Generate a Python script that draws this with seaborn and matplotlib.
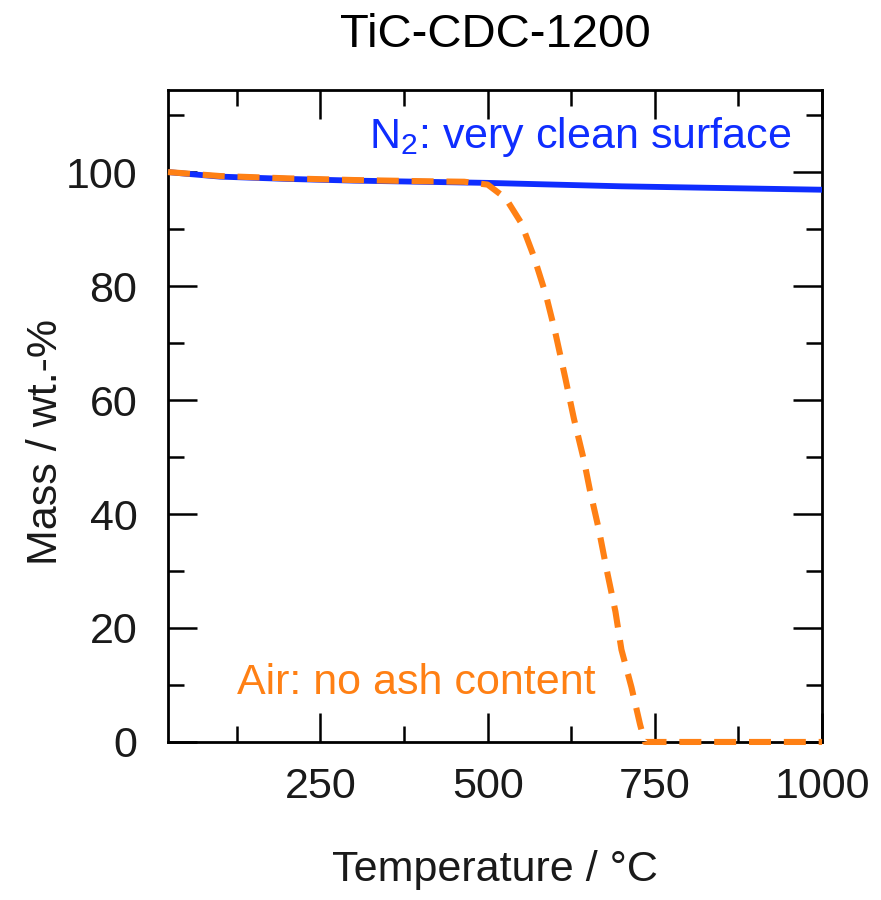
#!/usr/bin/env python3
"""
TGA curves of TiC-CDC-1200 in N2 and in air.
"""

import pandas as pd
import seaborn as sns
import matplotlib
matplotlib.use("Agg")
import matplotlib.pyplot as plt
from matplotlib.ticker import MultipleLocator

# N2 run
temp_n2 = [22, 50, 100, 200, 300, 400, 500, 600, 700, 800, 900, 1000]
mass_n2 = [100, 99.7, 99.2, 98.8, 98.5, 98.3, 98.1, 97.8, 97.5, 97.3, 97.1, 96.9]

# air run
temp_air = [22, 100, 200, 300, 400, 465, 500, 527, 550, 569, 587, 601, 616,
            629, 644, 653, 666, 678, 691, 700, 715, 728, 735, 750, 850, 1000]
mass_air = [100, 99.3, 98.9, 98.6, 98.4, 98.3, 97.8, 95.4, 91.1, 85.2, 78.5,
            71.9, 63.9, 56.7, 49.4, 44.1, 37.4, 30.2, 22.9, 16.2, 9.6, 3.0,
            0, 0, 0, 0]

x_ticks = [250, 500, 750, 1000]
y_ticks = [0, 20, 40, 60, 80, 100]

BLUE = '#0f2dff'
ORANGE = '#ff8014'

df_n2 = pd.DataFrame({'temp': temp_n2, 'mass': mass_n2})
df_air = pd.DataFrame({'temp': temp_air, 'mass': mass_air})

sns.set_theme(style="ticks")
plt.rcParams['font.family'] = ['Liberation Sans', 'DejaVu Sans']
plt.rcParams['mathtext.fontset'] = 'custom'
plt.rcParams['mathtext.rm'] = 'Liberation Sans'

fig = plt.figure(figsize=(8.81, 9.0), dpi=100)
ax = fig.add_axes([0.1907, 0.1756, 0.7424, 0.7244])

sns.lineplot(data=df_n2, x='temp', y='mass', ax=ax, color=BLUE,
             linewidth=4.2, solid_capstyle='butt', zorder=3)
air_line = sns.lineplot(data=df_air, x='temp', y='mass', ax=ax, color=ORANGE,
                        linewidth=4.4, zorder=5).lines[-1]
air_line.set_dashes((3.6, 2.1))
air_line.set_dash_capstyle('butt')
air_line.set_clip_on(False)

ax.set_xlim(22, 1000)
ax.set_ylim(0, 114.4)
ax.set_xticks(x_ticks)
ax.set_yticks(y_ticks)
ax.xaxis.set_minor_locator(MultipleLocator(125))
ax.yaxis.set_minor_locator(MultipleLocator(10))

ax.tick_params(which='both', direction='in', top=True, right=True,
               width=1.8, color='black', labelsize=31, labelcolor='#1a1a1a')
ax.tick_params(which='major', length=21)
ax.tick_params(which='minor', length=11.5)
ax.tick_params(axis='x', which='major', pad=18)
ax.tick_params(axis='y', which='major', pad=22)

for sp in ax.spines.values():
    sp.set_visible(True)
    sp.set_linewidth(2.0)
    sp.set_color('black')

ax.set_title('TiC-CDC-1200', fontsize=34, pad=31, color='black')
ax.set_xlabel('Temperature / °C', fontsize=31, color='#1a1a1a')
ax.set_ylabel('Mass / wt.-%', fontsize=31, color='#1a1a1a')
ax.xaxis.set_label_coords(0.5, -0.166)
ax.yaxis.set_label_coords(-0.156, 0.46)

ax.text(954, 104.2, r'N$_\mathregular{2}$: very clean surface', color=BLUE,
        fontsize=31, ha='right', va='baseline')
ax.text(125, 8.5, 'Air: no ash content', color=ORANGE,
        fontsize=31, ha='left', va='baseline')

fig.savefig('out.png', dpi=100)
